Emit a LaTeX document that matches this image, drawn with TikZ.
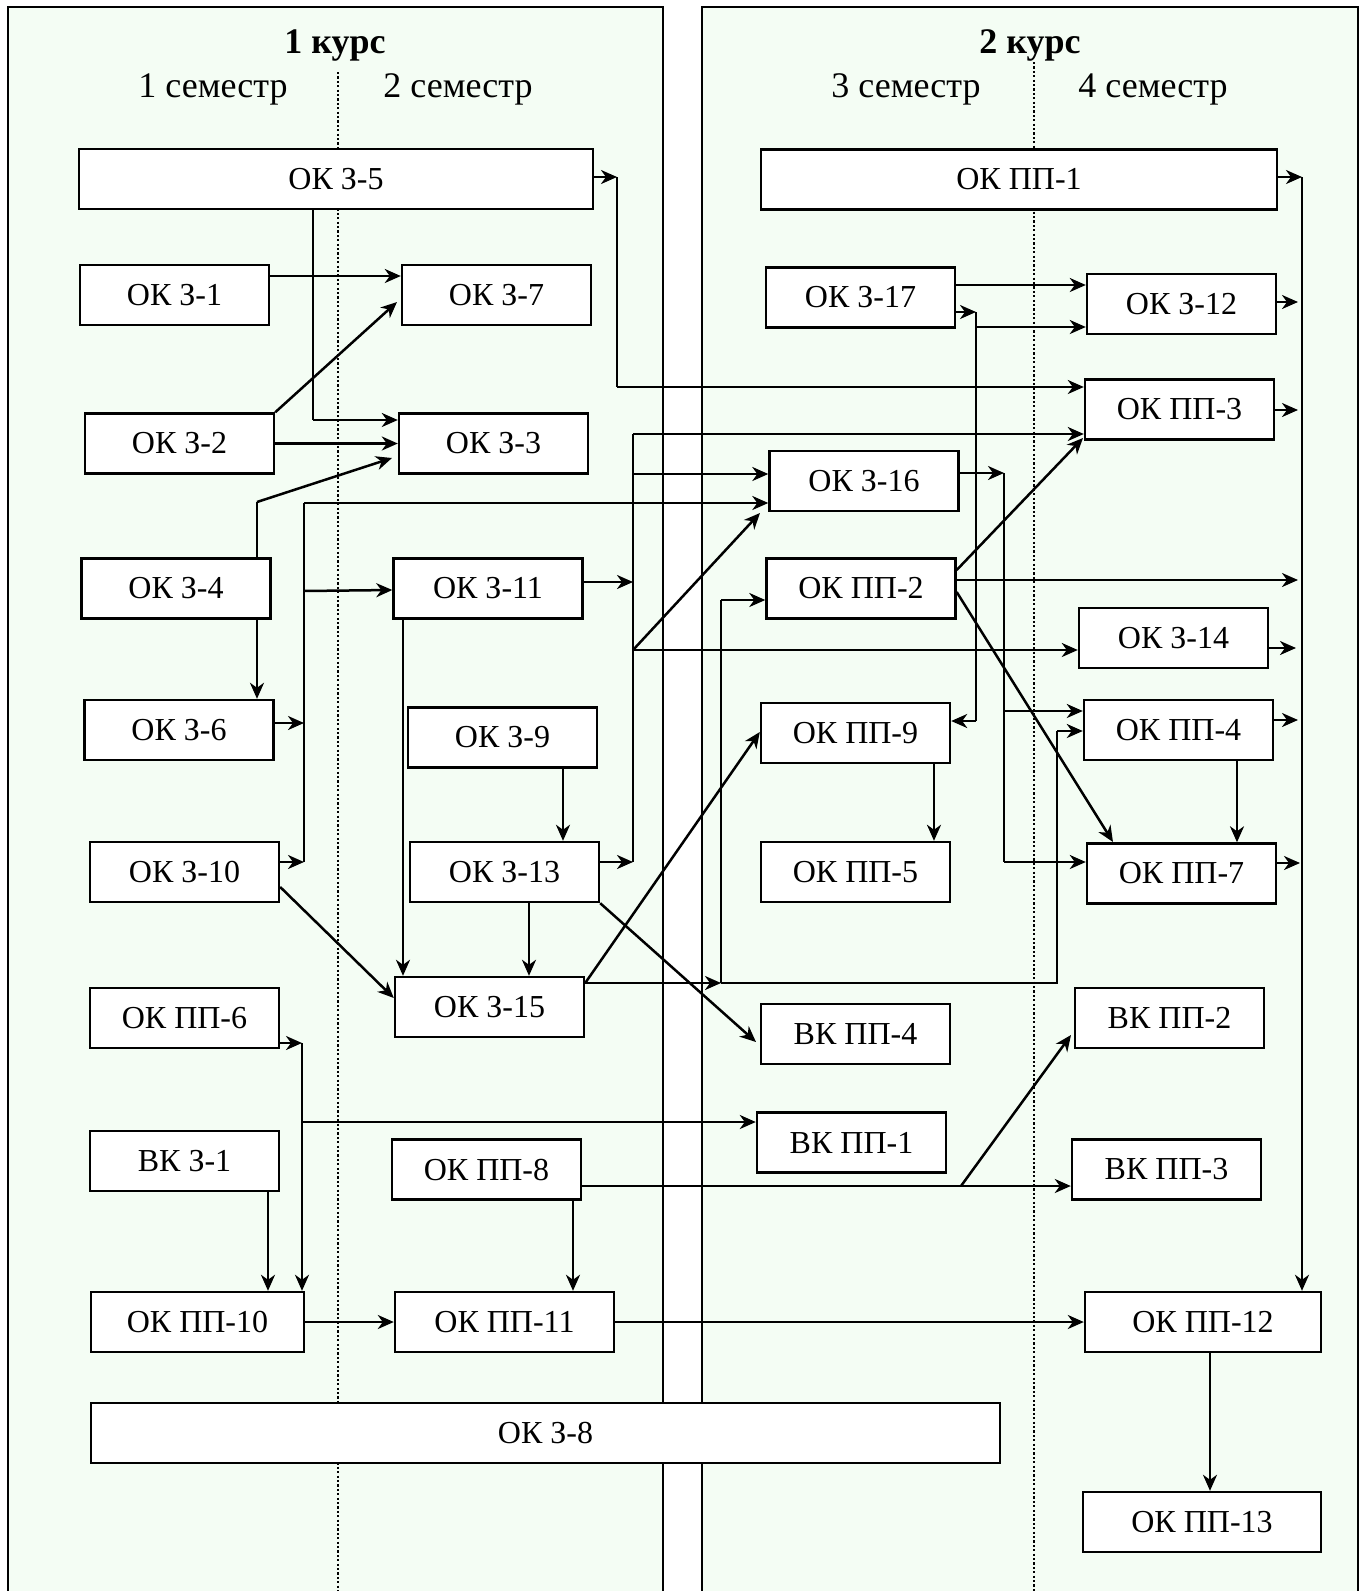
\documentclass[tikz,border=0pt]{standalone}
\usepackage{fontspec}
\setmainfont{Liberation Serif}
\usetikzlibrary{arrows.meta}
\definecolor{panelg}{RGB}{244,253,244}
\begin{document}
\begin{tikzpicture}[x=0.5pt,y=-0.5pt,
  box/.style={draw, line width=1.2pt, fill=white, minimum height=30pt, minimum width=94.5pt, inner sep=0pt, font=\fontsize{16}{19}\selectfont},
  hd/.style={anchor=base, inner sep=0pt, font=\fontsize{18}{21}\selectfont},
  con/.style={line width=1.25pt, -{Stealth[length=8pt,width=7pt,inset=2.5pt]}},
  ln/.style={line width=1.25pt},
  thinln/.style={line width=0.75pt},
  dotln/.style={line width=0.7pt, dash pattern=on 1.1pt off 1.1pt},
  border/.style={line width=1.1pt}]
\useasboundingbox (0,0) rectangle (1360,1591);
% panels
\fill[panelg] (8,7) rectangle (663,1591);
\fill[panelg] (702,7) rectangle (1358,1591);
\draw[border] (8,1591) -- (8,7) -- (663,7) -- (663,1591);
\draw[border] (702,1591) -- (702,7) -- (1358,7) -- (1358,1591);
\draw[dotln] (338,72) -- (338,1591);
\draw[dotln] (1034,62) -- (1034,1591);
% headings
\node[hd, font=\fontsize{18}{21}\selectfont\bfseries] (h1) at (335,53) {1 курс};
\node[hd] (s1) at (213,97) {1 семестр};
\node[hd] (s2) at (458,97) {2 семестр};
\node[hd, font=\fontsize{18}{21}\selectfont\bfseries] (h2) at (1030,53) {2 курс};
\node[hd] (s3) at (906,97) {3 семестр};
\node[hd] (s4) at (1153,97) {4 семестр};
% boxes, left panel
\node[box, minimum width=257pt] (k35) at (336,179) {ОК З-5};
\node[box] (k31) at (174.5,295) {ОК З-1};
\node[box] (k37) at (496.5,295) {ОК З-7};
\node[box] (k32) at (179.5,443.5) {ОК З-2};
\node[box] (k33) at (493.5,443.5) {ОК З-3};
\node[box] (k34) at (176,588.5) {ОК З-4};
\node[box] (k311) at (488,588.5) {ОК З-11};
\node[box] (k36) at (179,730) {ОК З-6};
\node[box] (k39) at (502.5,737.5) {ОК З-9};
\node[box] (k310) at (184.5,872) {ОК З-10};
\node[box] (k313) at (504.5,872) {ОК З-13};
\node[box] (k315) at (489.5,1007) {ОК З-15};
\node[box] (pp6) at (184.5,1018) {ОК ПП-6};
\node[box] (v31) at (184.5,1161) {ВК З-1};
\node[box] (p8) at (486.5,1169.5) {ОК ПП-8};
\node[box, minimum width=106.5pt] (p10) at (197.5,1322) {ОК ПП-10};
\node[box, minimum width=109.5pt] (p11) at (504.5,1322) {ОК ПП-11};
\node[box, minimum width=454.5pt] (k38) at (545.5,1433) {ОК З-8};
% boxes, right panel
\node[box, minimum width=258pt] (p1) at (1019,179.5) {ОК ПП-1};
\node[box] (k317) at (860.5,297.5) {ОК З-17};
\node[box] (k312) at (1181.5,304) {ОК З-12};
\node[box] (p3) at (1179.5,409.5) {ОК ПП-3};
\node[box] (k316) at (864,481) {ОК З-16};
\node[box] (p2) at (861,588.5) {ОК ПП-2};
\node[box] (k314) at (1173.5,638) {ОК З-14};
\node[box] (p9) at (855.5,733) {ОК ПП-9};
\node[box] (p4) at (1178.5,730) {ОК ПП-4};
\node[box] (p5) at (855.5,872) {ОК ПП-5};
\node[box] (p7) at (1181.5,873.5) {ОК ПП-7};
\node[box] (v4) at (855.5,1034) {ВК ПП-4};
\node[box] (v2) at (1169.5,1018) {ВК ПП-2};
\node[box] (v1) at (851.5,1142.5) {ВК ПП-1};
\node[box] (v3) at (1166.5,1169.5) {ВК ПП-3};
\node[box, minimum width=118pt] (p12) at (1203,1322) {ОК ПП-12};
\node[box, minimum width=119pt] (p13) at (1202,1522) {ОК ПП-13};
% junction and end coordinates
\coordinate (j1) at (617,177);
\coordinate (j1b) at (617,387);
\coordinate (j2) at (313,420);
\coordinate (t4) at (397,302);
\coordinate (j6) at (257,502);
\coordinate (t6) at (392,458);
\coordinate (b7t) at (304,503);
\coordinate (b7m) at (304,591);
\coordinate (b7c) at (304,723);
\coordinate (b7b) at (304,862);
\coordinate (b9t) at (633,434);
\coordinate (b9d) at (633,474);
\coordinate (b9a) at (633,582);
\coordinate (b9e) at (633,650);
\coordinate (b9b) at (633,862);
\coordinate (t9) at (760,513);
\coordinate (t13) at (756,1042);
\coordinate (j16) at (721,983);
\coordinate (j16t) at (721,600);
\coordinate (j16r) at (1057,983);
\coordinate (j16s) at (1057,731);
\coordinate (b17t) at (302,1043);
\coordinate (b17m) at (302,1122);
\coordinate (j20) at (961,1186);
\coordinate (t20) at (1071,1035);
\coordinate (col) at (1302,177);
\coordinate (c25) at (1298,302);
\coordinate (c26) at (1298,410);
\coordinate (c27) at (1298,580);
\coordinate (c28) at (1296,648);
\coordinate (c29) at (1298,720);
\coordinate (c30) at (1300,863);
\coordinate (j32) at (976,312);
\coordinate (j32c) at (976,327);
\coordinate (j32b) at (976,721);
\coordinate (j33) at (1004,473);
\coordinate (j33m) at (1004,711);
\coordinate (j33b) at (1004,862);
\coordinate (t34) at (1083,438);
\coordinate (t35) at (1113,842);
% connectors, left panel
\draw[con] (k35.east |- j1) -- (j1);
\draw[thinln] (j1) -- (j1b);
\draw[con] (j1b) -- (p3.west |- j1b);
\draw[thinln] (k35.south -| j2) -- (j2);
\draw[con] (j2) -- (k33.west |- j2);
\draw[con] (k31.east |- 0,276) -- (k37.west |- 0,276);
\draw[con] (k32.north east) -- (t4);
\draw[con] (k32.east) -- (k33.west);
\draw[ln] (k34.north -| j6) -- (j6);
\draw[con] (j6) -- (t6);
\draw[thinln] (b7t) -- (b7b);
\draw[con] (b7t) -- (k316.west |- b7t);
\draw[con] (b7m) -- (k311.west |- 0,590);
\draw[con] (k36.east |- b7c) -- (b7c);
\draw[con] (k310.east |- b7b) -- (b7b);
\draw[con] (k34.south -| j6) -- (k36.north -| j6);
\draw[thinln] (b9t) -- (b9b);
\draw[con] (k311.east |- b9a) -- (b9a);
\draw[con] (b9t) -- (p3.west |- b9t);
\draw[con] (b9d) -- (k316.west |- b9d);
\draw[con] (b9e) -- (t9);
\draw[con] (b9e) -- (k314.west |- b9e);
\draw[con] (k313.east |- b9b) -- (b9b);
\draw[con] (k311.south -| 403,0) -- (k315.north -| 403,0);
\draw[con] (k39.south -| 563,0) -- (k313.north -| 563,0);
\draw[con] (k313.south -| 529,0) -- (k315.north -| 529,0);
\draw[con] (k313.south east) -- (t13);
\draw[con] (k310.east |- 0,887) -- (k315.west |- 0,998);
\draw[con] (k315.east |- j16) -- (p9.west |- 0,732);
\draw[con] (k315.east |- j16) -- (j16);
\draw[thinln] (j16) -- (j16t);
\draw[con] (j16t) -- (p2.west |- j16t);
\draw[thinln] (j16) -- (j16r) -- (j16s);
\draw[con] (j16s) -- (p4.west |- j16s);
\draw[con] (pp6.east |- b17t) -- (b17t);
\draw[con] (b17t) -- (p10.north -| b17t);
\draw[con] (b17m) -- (v1.west |- b17m);
\draw[con] (v31.south -| 268,0) -- (p10.north -| 268,0);
\draw[con] (p8.south -| 573,0) -- (p11.north -| 573,0);
\draw[con] (p8.east |- j20) -- (v3.west |- j20);
\draw[con] (j20) -- (t20);
\draw[con] (p10.east) -- (p11.west);
\draw[con] (p11.east) -- (p12.west);
\draw[con] (p12.south -| 1210,0) -- (p13.north -| 1210,0);
% connectors, right panel
\draw[con] (p1.east |- col) -- (col);
\draw[con] (col) -- (p12.north -| col);
\draw[con] (k312.east |- c25) -- (c25);
\draw[con] (p3.east |- c26) -- (c26);
\draw[con] (p2.east |- c27) -- (c27);
\draw[con] (k314.east |- c28) -- (c28);
\draw[con] (p4.east |- c29) -- (c29);
\draw[con] (p7.east |- c30) -- (c30);
\draw[con] (k317.east |- 0,285) -- (k312.west |- 0,285);
\draw[con] (k317.east |- j32) -- (j32);
\draw[thinln] (j32) -- (j32b);
\draw[con] (j32c) -- (k312.west |- j32c);
\draw[con] (j32b) -- (p9.east |- j32b);
\draw[con] (k316.east |- j33) -- (j33);
\draw[thinln] (j33) -- (j33b);
\draw[con] (j33m) -- (p4.west |- j33m);
\draw[con] (j33b) -- (p7.west |- j33b);
\draw[con] (p2.east |- 0,570) -- (t34);
\draw[con] (p2.east |- 0,592) -- (t35);
\draw[con] (p9.south -| 934,0) -- (p5.north -| 934,0);
\draw[con] (p4.south -| 1237,0) -- (p7.north -| 1237,0);
\end{tikzpicture}
\end{document}
